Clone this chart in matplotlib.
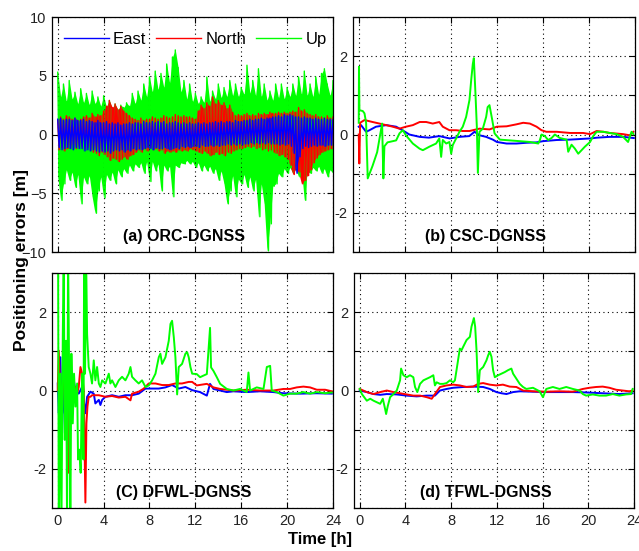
import numpy as np
import matplotlib
matplotlib.use("Agg")
from matplotlib import pyplot as plt
from matplotlib.lines import Line2D

plt.rcParams['font.family'] = ['Liberation Sans', 'DejaVu Sans']

## (a) ORC-DGNSS: noisy bands, upper/lower envelope read every 0.25 h
t_a = np.arange(97) * 0.25

up_hi = [5.3, 3.2, 4.3, 2.8,  4.6, 3.0, 3.6, 2.6,  3.9, 2.7, 3.5, 2.5,  3.7, 2.6, 3.2, 2.4,
         3.3, 2.3, 2.9, 2.2,  2.6, 2.1, 2.5, 2.3,  2.7, 2.4, 3.5, 2.6,  3.7, 2.9, 4.3, 3.2,
         4.9, 3.6, 5.4, 3.8,  5.2, 4.0, 6.0, 4.4,  6.6, 7.2, 5.7, 3.6,  4.6, 3.0, 4.3, 2.8,
         3.5, 2.6, 3.2, 2.7,  4.9, 2.8, 3.7, 3.0,  4.3, 3.1, 4.0, 3.2,  4.6, 3.3, 4.3, 3.2,
         4.0, 3.4, 5.9, 3.5,  4.6, 3.3, 5.6, 3.2,  4.3, 2.9, 3.7, 2.9,  4.3, 3.1, 4.3, 3.0,
         4.0, 3.2, 4.3, 3.3,  4.9, 3.4, 5.4, 3.3,  4.3, 3.2, 4.9, 3.4,  5.2, 5.6, 4.3, 3.3,
         4.6]
up_lo = [-3.6, -5.6, -4.2, -3.0,  -3.9, -3.2, -4.5, -3.4,  -5.9, -3.6, -4.2, -3.5,
         -5.3, -6.7, -4.8, -3.6,  -5.4, -3.4, -3.9, -3.2,  -4.2, -3.0, -3.6, -2.9,
         -3.3, -2.6, -3.1, -2.5,  -2.8, -2.4, -3.3, -2.3,  -4.0, -2.3, -3.1, -2.5,
         -4.8, -2.6, -3.1, -2.7,  -5.3, -2.6, -2.8, -2.4,  -2.5, -2.2, -2.5, -2.3,
         -2.8, -2.4, -3.1, -2.6,  -3.1, -2.7, -3.3, -2.9,  -3.9, -3.1, -4.2, -5.9,
         -4.8, -3.5, -5.3, -3.8,  -4.2, -3.4, -4.5, -3.6,  -4.8, -3.8, -7.0, -4.2,
         -5.9, -9.9, -7.6, -4.4,  -4.2, -3.3, -3.6, -2.9,  -3.3, -2.8, -3.3, -2.9,
         -3.6, -3.0, -5.6, -3.1,  -3.3, -2.8, -3.1, -2.7,  -3.3, -2.9, -3.6, -3.0,
         -3.3]
north_hi = [1.2, 1.5, 1.3, 1.6,  1.5, 1.3, 1.4, 1.2,  1.3, 1.5, 1.6, 1.4,  1.8, 1.5, 1.7, 1.6,
            2.0, 2.4, 2.9, 2.3,  2.6, 2.1, 2.4, 2.0,  1.8, 1.6, 1.4, 1.3,  1.2, 1.4, 1.2, 1.3,
            1.3, 1.5, 1.4, 1.3,  1.4, 1.6, 1.5, 1.4,  1.5, 1.7, 1.6, 1.5,  1.6, 1.5, 1.5, 1.4,
            1.3, 2.0, 2.5, 2.2,  2.7, 2.4, 3.2, 2.6,  2.9, 2.5, 2.7, 2.2,  2.5, 1.9, 1.6, 1.7,
            1.6, 1.7, 1.8, 1.6,  1.7, 1.6, 1.8, 1.7,  1.8, 1.7, 1.9, 1.8,  1.8, 1.9, 1.8, 1.9,
            1.8, 1.9, 2.0, 1.9,  2.3, 2.0, 2.1, 1.8,  1.7, 1.6, 1.7, 1.5,  1.5, 1.4, 1.6, 1.4,
            1.5]
north_lo = [-1.3, -1.1, -1.4, -1.2,  -1.1, -0.9, -1.2, -1.0,  -1.0, -1.2, -1.1, -1.3,
            -1.5, -1.6, -1.8, -1.5,  -1.7, -1.9, -2.2, -2.0,  -2.1, -2.3, -2.1, -1.9,
            -2.1, -1.8, -1.7, -1.5,  -1.3, -1.5, -1.2, -1.4,  -1.1, -1.3, -1.2, -1.4,
            -1.3, -1.6, -1.4, -1.5,  -1.4, -1.5, -1.3, -1.4,  -1.3, -1.4, -1.2, -1.3,
            -1.4, -1.5, -1.6, -1.4,  -1.6, -1.8, -1.7, -1.5,  -1.7, -1.6, -1.8, -1.5,
            -1.6, -1.4, -1.3, -1.2,  -1.2, -1.1, -1.0, -1.1,  -1.0, -1.2, -1.1, -1.3,
            -1.2, -1.4, -1.3, -1.5,  -1.6, -1.8, -1.7, -1.9,  -2.1, -2.6, -3.4, -2.9,
            -3.2, -4.2, -3.9, -3.5,  -3.0, -2.4, -2.0, -1.7,  -1.5, -1.4, -1.3, -1.2,
            -1.2]
east_hi = [1.3, 1.4, 1.2, 1.3,  1.3, 1.2, 1.4, 1.2,  1.2, 1.3, 1.1, 1.2,  1.1, 1.0, 1.2, 1.0,
           1.0, 1.1, 0.9, 1.0,  0.9, 1.0, 0.8, 0.9,  0.9, 1.0, 0.9, 1.0,  1.0, 0.9, 1.1, 1.0,
           1.0, 1.1, 1.0, 1.1,  1.0, 1.1, 0.9, 1.0,  1.0, 1.1, 1.0, 0.9,  1.0, 0.9, 1.0, 0.9,
           0.9, 1.0, 0.9, 1.0,  0.9, 1.0, 1.0, 1.1,  1.0, 1.1, 1.0, 1.1,  1.1, 1.0, 1.2, 1.1,
           1.1, 1.2, 1.2, 1.3,  1.2, 1.3, 1.3, 1.4,  1.3, 1.4, 1.4, 1.5,  1.5, 1.6, 1.5, 1.7,
           1.6, 1.7, 1.6, 1.5,  1.5, 1.4, 1.5, 1.4,  1.4, 1.3, 1.4, 1.3,  1.3, 1.4, 1.3, 1.3,
           1.3]
east_lo = [-1.1, -1.3, -1.2, -1.1,  -1.2, -1.3, -1.1, -1.2,  -1.2, -1.4, -1.3, -1.4,
           -1.3, -1.4, -1.5, -1.4,  -1.5, -1.4, -1.6, -1.4,  -1.3, -1.4, -1.3, -1.5,
           -1.3, -1.4, -1.2, -1.3,  -1.2, -1.3, -1.2, -1.1,  -1.2, -1.3, -1.1, -1.2,
           -1.2, -1.1, -1.2, -1.3,  -1.2, -1.1, -1.2, -1.0,  -1.1, -1.0, -1.1, -1.0,
           -1.0, -1.1, -0.9, -1.0,  -1.0, -0.9, -1.0, -0.9,  -1.0, -0.9, -0.9, -0.8,
           -0.9, -0.8, -0.9, -0.8,  -0.9, -0.8, -0.8, -0.7,  -0.8, -0.7, -0.8, -0.7,
           -0.8, -0.7, -0.8, -0.8,  -0.8, -0.9, -0.8, -0.9,  -0.8, -1.0, -1.6, -3.3,
           -1.9, -1.2, -1.0, -1.1,  -1.0, -0.9, -1.0, -0.9,  -0.9, -1.0, -0.9, -0.9,
           -0.9]

## (b) CSC-DGNSS  (hour, metre)
b_east = [(0, 0.2), (0.2, 0.24), (0.64, 0.07), (0.93, 0.11), (1.5, 0.2), (2.4, 0.24),
          (3.25, 0.2), (3.8, 0.11), (4.4, 0.0), (5.3, -0.06), (6.1, -0.08), (7.0, -0.04),
          (7.9, -0.1), (8.75, -0.06), (9.6, -0.04), (10.06, 0.07), (10.5, -0.02),
          (11.07, -0.06), (11.65, -0.13), (12.0, -0.19), (12.85, -0.23), (13.7, -0.23),
          (14.6, -0.21), (15.45, -0.2), (16.0, -0.17), (17.2, -0.14), (18.35, -0.13),
          (19.5, -0.11), (20.1, -0.1), (20.7, -0.08), (21.8, -0.06), (23.0, -0.06), (23.9, -0.09)]
b_north = [(0, 0.0), (0.05, -0.74), (0.12, 0.3), (0.5, 0.37), (1.2, 0.32), (1.8, 0.28),
           (2.38, 0.24), (2.96, 0.2), (3.54, 0.15), (4.1, 0.2), (4.7, 0.24), (5.3, 0.32),
           (5.86, 0.32), (6.43, 0.28), (7.0, 0.32), (7.3, 0.2), (7.88, 0.11), (8.46, 0.11),
           (9.04, 0.09), (9.62, 0.09), (10.49, 0.15), (11.36, 0.13), (12.0, 0.2),
           (12.85, 0.21), (13.7, 0.26), (14.29, 0.3), (14.87, 0.28), (15.45, 0.2),
           (15.88, 0.11), (16.3, 0.07), (17.2, 0.07), (18.35, 0.04), (19.5, 0.04),
           (20.1, 0.01), (20.67, 0.09), (21.25, 0.07), (21.8, 0.04), (22.97, 0.01),
           (23.55, -0.02), (23.86, 0.07)]
b_up = [(0, 0.3), (0.02, 1.73), (0.06, 0.62), (0.35, 0.6), (0.5, 0.54), (0.64, 0.3),
        (0.78, -1.12), (1.2, -0.8), (1.6, -0.45), (2.03, 0.28), (2.14, -1.12), (2.23, -0.3),
        (2.5, -0.2), (3.25, -0.15), (3.54, 0.03), (3.83, 0.11), (4.1, -0.02), (4.7, -0.23),
        (5.28, -0.36), (5.57, -0.4), (6.14, -0.31), (6.72, -0.23), (7.0, -0.1),
        (7.16, -0.57), (7.3, -0.14), (7.6, -0.23), (7.88, -0.19), (8.03, -0.49),
        (8.17, -0.27), (8.46, -0.1), (8.75, 0.07), (9.04, 0.2), (9.33, 0.45), (9.62, 0.88),
        (9.77, 1.39), (9.91, 1.8), (10.0, 1.95), (10.14, 1.05), (10.26, 0.2), (10.35, -0.98),
        (10.49, 0.07), (10.78, 0.15), (11.07, 0.45), (11.2, 0.7), (11.36, 0.75),
        (11.6, 0.37), (11.8, 0.03), (12.26, -0.13), (13.13, -0.15), (14.0, -0.17),
        (14.87, -0.19), (15.6, -0.23), (15.74, -0.14), (15.88, 0.0), (16.17, -0.04),
        (16.46, -0.14), (16.75, -0.09), (17.04, 0.0), (17.48, -0.09), (18.06, -0.13),
        (18.2, -0.44), (18.49, -0.26), (18.78, -0.36), (19.07, -0.49), (19.36, -0.4),
        (19.65, -0.31), (20.1, -0.19), (20.37, -0.04), (20.67, 0.07), (21.25, 0.07),
        (21.8, 0.04), (22.4, 0.01), (22.97, -0.06), (23.4, -0.19), (23.7, 0.07), (23.86, 0.01)]

## (c) DFWL-DGNSS
c_east = [(0, 0.18), (0.09, -0.58), (0.23, 0.85), (0.38, -1.09), (0.52, 0.43), (0.61, -0.58),
          (0.73, 0.01), (0.9, 1.27), (0.96, -1.76), (1.1, 0.18), (1.25, -0.16), (1.4, 0.26),
          (1.54, 0.01), (1.83, -0.08), (2.12, 0.09), (2.41, -0.58), (2.56, -0.16),
          (2.85, -0.03), (3.14, -0.08), (3.28, -0.33), (3.58, -0.24), (3.72, -0.37),
          (3.87, -0.24), (4.16, -0.16), (4.74, -0.12), (5.32, -0.16), (5.9, -0.12),
          (6.48, -0.12), (7.06, -0.08), (7.65, 0.05), (8.23, 0.05), (8.81, 0.05),
          (9.39, 0.08), (9.97, 0.14), (10.55, 0.05), (11.13, 0.09), (11.72, 0.01),
          (12.41, -0.04), (13.0, -0.13), (13.28, 0.17), (13.58, 0.04), (14.16, 0.0),
          (14.74, -0.04), (15.32, -0.02), (16.48, -0.04), (17.65, -0.02), (18.81, -0.04),
          (19.68, -0.07), (21.13, -0.08), (22.59, -0.07), (23.9, -0.08)]
c_north = [(0, 0.01), (0.09, 1.02), (0.23, -0.24), (0.38, -0.41), (0.52, 1.1), (0.67, -0.58),
           (0.81, 0.85), (0.96, -2.1), (1.02, 0.01), (1.1, 0.43), (1.25, 0.18), (1.4, 0.01),
           (1.54, 0.09), (1.69, -0.08), (1.83, 0.09), (1.98, 0.6), (2.12, 0.43), (2.27, 0.01),
           (2.41, -2.86), (2.5, -0.84), (2.59, -0.41), (2.7, -0.16), (2.85, -0.16),
           (2.99, -0.12), (3.58, -0.12), (4.16, -0.16), (4.74, -0.14), (5.32, -0.18),
           (5.9, -0.16), (6.34, -0.25), (6.48, -0.08), (7.06, -0.03), (7.5, 0.05),
           (7.94, 0.18), (8.52, 0.18), (9.1, 0.14), (9.68, 0.14), (10.26, 0.18),
           (10.84, 0.18), (11.42, 0.22), (11.72, 0.22), (12.12, 0.13), (13.0, 0.17),
           (13.58, 0.08), (14.16, 0.04), (15.32, 0.0), (16.48, 0.02), (17.65, 0.0),
           (18.81, 0.0), (19.68, 0.04), (20.26, 0.04), (20.84, 0.08), (21.42, 0.1),
           (22.0, 0.08), (22.59, 0.02), (23.31, 0.02), (23.9, -0.02)]
c_up = [(0.03, 3.5), (0.09, -3.5), (0.23, 0.43), (0.32, -3.5), (0.44, 1.44), (0.52, 3.5),
        (0.61, -1.26), (0.73, 1.27), (0.81, -3.5), (0.9, 3.5), (1.02, -0.41), (1.1, -3.5),
        (1.19, 0.94), (1.31, -0.84), (1.42, 0.43), (1.54, -0.41), (1.69, 0.18),
        (1.77, -1.76), (1.89, -1.51), (2.0, -2.1), (2.12, 0.43), (2.24, -1.76), (2.3, 3.5),
        (2.38, 0.43), (2.47, 3.5), (2.56, 1.44), (2.7, 0.6), (2.85, 0.43), (2.99, 0.18),
        (3.14, 0.77), (3.28, 0.26), (3.43, 0.6), (3.58, 0.18), (3.72, 0.09), (3.87, 0.26),
        (4.16, 0.18), (4.45, 0.43), (4.59, 0.18), (4.74, 0.26), (5.03, 0.09), (5.32, 0.26),
        (5.61, 0.35), (5.9, 0.26), (6.19, 0.43), (6.34, 0.6), (6.48, 0.35), (6.77, 0.26),
        (7.06, 0.18), (7.35, 0.26), (7.65, 0.09), (7.94, 0.13), (8.23, 0.26), (8.52, 0.43),
        (8.81, 0.85), (8.95, 0.94), (9.1, 0.68), (9.39, 0.85), (9.68, 1.27), (9.83, 1.7),
        (9.97, 1.78), (10.12, 1.36), (10.26, 0.85), (10.41, -0.1), (10.55, 0.6),
        (10.84, 0.68), (11.13, 0.94), (11.28, 0.98), (11.42, 0.85), (11.57, 0.6),
        (11.72, 0.43), (12.12, 0.42), (12.41, 0.34), (12.7, 0.38), (13.0, 0.42),
        (13.28, 1.6), (13.37, 0.59), (13.58, 0.5), (13.87, 0.34), (14.16, 0.17),
        (14.74, 0.04), (15.32, 0.0), (15.9, 0.04), (16.48, -0.04), (16.63, 0.46),
        (16.77, 0.0), (17.35, 0.08), (17.94, 0.04), (18.23, 0.6), (18.52, 0.63),
        (18.66, 0.0), (19.1, -0.04), (19.68, -0.13), (20.26, -0.08), (20.84, -0.08),
        (21.42, -0.04), (22.0, -0.08), (22.59, -0.04), (23.31, -0.07), (23.9, -0.05)]

## (d) TFWL-DGNSS
d_east = [(0, 0.0), (0.62, -0.04), (1.21, -0.09), (1.79, -0.11), (2.37, -0.09), (3.24, -0.1),
          (4.11, -0.13), (4.98, -0.15), (5.86, -0.13), (6.58, -0.13), (7.02, 0.0), (7.6, 0.04),
          (8.18, 0.07), (9.06, 0.09), (9.93, 0.1), (10.8, 0.09), (11.38, 0.04), (11.96, -0.04),
          (12.4, -0.07), (12.84, -0.09), (13.42, -0.04), (14.0, -0.02), (15.16, -0.03),
          (16.32, -0.04), (17.48, -0.04), (18.65, -0.04), (19.81, -0.05), (21.26, -0.07),
          (22.72, -0.09), (23.88, -0.07)]
d_north = [(0, 0.04), (0.62, -0.04), (1.21, -0.09), (1.79, -0.04), (2.37, 0.0), (2.95, -0.04),
           (3.53, -0.07), (4.11, -0.1), (4.69, -0.13), (5.28, -0.13), (5.86, -0.17),
           (6.3, -0.21), (6.58, -0.09), (7.02, 0.09), (7.6, 0.13), (8.18, 0.15), (8.76, 0.13),
           (9.35, 0.09), (9.93, 0.1), (10.36, 0.17), (10.8, 0.19), (11.38, 0.15),
           (11.96, 0.13), (12.53, 0.15), (13.12, 0.1), (13.71, 0.09), (14.29, 0.0),
           (15.16, -0.02), (16.32, -0.03), (17.48, -0.02), (18.65, -0.03), (19.52, 0.04),
           (20.1, 0.07), (20.68, 0.09), (21.26, 0.1), (21.85, 0.07), (22.43, 0.02),
           (23.0, 0.0), (23.59, -0.02), (23.88, 0.0)]
d_up = [(0, 0.04), (0.19, -0.09), (0.39, -0.17), (0.62, -0.26), (0.92, -0.21), (1.21, -0.26),
        (1.5, -0.3), (1.79, -0.34), (2.02, -0.21), (2.22, -0.47), (2.31, -0.6), (2.46, -0.39),
        (2.66, -0.17), (2.95, -0.09), (3.24, 0.0), (3.53, 0.26), (3.62, 0.56), (3.82, 0.39),
        (4.11, 0.34), (4.4, 0.39), (4.69, 0.34), (4.84, 0.09), (5.04, -0.04), (5.28, 0.17),
        (5.57, 0.26), (5.86, 0.3), (6.15, 0.34), (6.44, 0.39), (6.58, 0.13), (6.73, 0.21),
        (7.02, 0.17), (7.31, 0.17), (7.6, 0.19), (7.89, 0.26), (8.18, 0.21), (8.33, 0.26),
        (8.47, 0.52), (8.76, 1.07), (8.91, 1.03), (9.06, 1.12), (9.35, 1.29), (9.64, 1.37),
        (9.78, 1.63), (9.99, 1.85), (10.1, 1.63), (10.22, 1.03), (10.36, -0.04),
        (10.51, 0.52), (10.8, 0.6), (11.09, 0.77), (11.24, 0.9), (11.38, 0.99), (11.53, 0.86),
        (11.67, 0.52), (11.82, 0.34), (12.11, 0.39), (12.4, 0.43), (12.69, 0.47),
        (12.98, 0.52), (13.27, 0.56), (13.42, 0.43), (13.71, 0.3), (14.0, 0.17),
        (14.29, 0.09), (14.58, 0.04), (15.16, 0.07), (15.74, -0.02), (16.03, -0.17),
        (16.32, 0.04), (16.9, 0.09), (17.48, 0.04), (18.07, 0.09), (18.65, 0.04),
        (19.23, 0.0), (19.52, -0.09), (19.81, -0.13), (20.39, -0.1), (20.97, -0.13),
        (21.56, -0.13), (22.14, -0.09), (22.72, -0.13), (23.3, -0.1), (23.74, -0.09),
        (23.88, 0.04)]

labels = ['(a) ORC-DGNSS', '(b) CSC-DGNSS', '(C) DFWL-DGNSS', '(d) TFWL-DGNSS']
names = ['East', 'North', 'Up']
colors = ['#0000ff', '#ff0000', '#00ff00']
xticks = [0, 4, 8, 12, 16, 20, 24]

fig = plt.figure(figsize=(6.39, 5.51), dpi=100)
boxes = [[0.0814, 0.5426, 0.4397, 0.4265], [0.5524, 0.5426, 0.4413, 0.4265],
         [0.0814, 0.0780, 0.4397, 0.4265], [0.5540, 0.0780, 0.4382, 0.4265]]
axs = [fig.add_axes(b) for b in boxes]


def style(ax, bottom):
    ax.set_xlim(-0.5, 24)
    ax.set_xticks(xticks)
    if bottom:
        ax.set_xticklabels([str(x) for x in xticks])
    else:
        ax.set_xticklabels([])
    ax.tick_params(direction='in', length=4, top=True, right=True, labelsize=10.5,
                   width=0.8, pad=4, labelcolor='#222222')
    ax.grid(True, linestyle=(0, (1, 3)), color='black', linewidth=0.8)
    for s in ax.spines.values():
        s.set_linewidth(0.9)


# panel (a): each band = filled envelope + a line zig-zagging between the envelopes
ax = axs[0]
for hi, lo, c in [(up_hi, up_lo, colors[2]), (north_hi, north_lo, colors[1]),
                  (east_hi, east_lo, colors[0])]:
    ax.fill_between(t_a, lo, hi, color=c, lw=0)
    xs = np.column_stack([t_a, t_a + 0.125]).ravel()
    ys = np.column_stack([hi, lo]).ravel()
    ax.plot(xs, ys, color=c, lw=1.0)
ax.set_ylim(-10, 10)
ax.set_yticks([-10, -5, 0, 5, 10])
style(ax, False)
handles = [Line2D([], [], color=c, lw=1.0) for c in colors]
ax.legend(handles, names, loc='upper center', ncol=3, frameon=False, fontsize=12,
          handlelength=2.7, handletextpad=0.25, columnspacing=0.6,
          bbox_to_anchor=(0.51, 1.0))

for ax, series, bottom in [(axs[1], (b_east, b_north, b_up), False),
                           (axs[2], (c_east, c_north, c_up), True),
                           (axs[3], (d_east, d_north, d_up), True)]:
    for data, c in zip(series, colors):
        t, v = np.array(data).T
        ax.plot(t, v, color=c, lw=1.4)
    ax.set_ylim(-3, 3)
    ax.set_yticks([-3, -2, -1, 0, 1, 2, 3])
    ax.set_yticklabels(['', '-2', '', '0', '', '2', ''])
    style(ax, bottom)

for ax, lab in zip(axs, labels):
    ax.text(0.47, 0.065, lab, transform=ax.transAxes, ha='center', va='center',
            fontsize=11.5, fontweight='bold')

fig.text(0.034, 0.528, 'Positioning errors [m]', rotation=90, ha='center', va='center',
         fontsize=12.5, fontweight='bold')
fig.text(0.5, 0.02, 'Time [h]', ha='center', va='center', fontsize=12, fontweight='bold')

fig.savefig('out.png', dpi=100)
